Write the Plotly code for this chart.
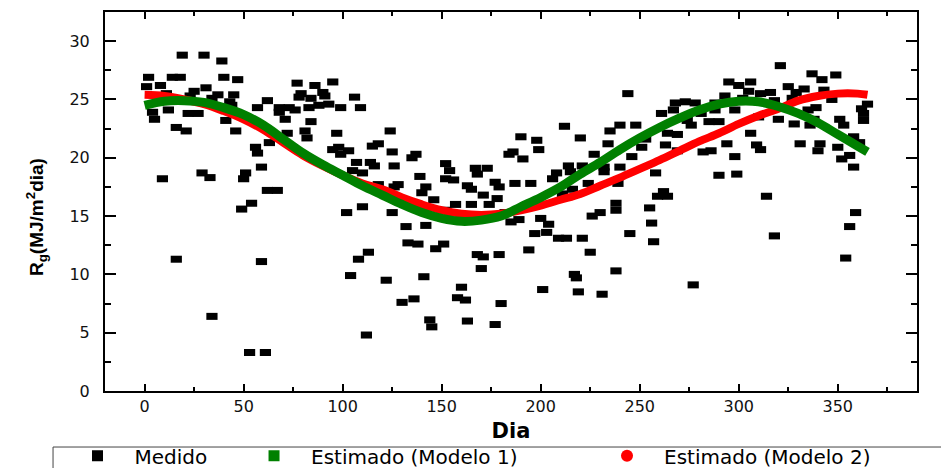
import plotly.graph_objects as go

# ---------------- data ----------------
medido_dia = [
    19, 30, 39, 2, 14, 18, 40, 47, 1, 8, 25, 31, 37, 45, 11, 23, 34, 43, 44, 4,
    12, 22, 27, 5, 41, 16, 21, 46, 9, 29, 33, 51, 50, 49, 54, 16, 34, 53,
    77, 86, 95, 79, 90, 91, 78, 84, 62, 57, 68, 73, 76, 83, 88, 93, 99, 106, 109,
    68, 71, 84, 72, 81, 82, 63, 97, 56, 57, 95, 98, 99, 103, 115, 118, 107, 114,
    116, 105, 110, 59, 62, 67, 102, 110, 113, 108, 104, 59, 112, 61,
    124, 125, 137, 135, 126, 152, 154, 167, 173, 168, 139, 152, 156, 118, 128, 126,
    142, 163, 165, 140, 171, 146, 157, 165, 174, 152, 125, 132, 142, 133, 138, 151,
    147, 168, 171, 170, 122, 141, 160, 130, 136, 158, 162, 144, 145, 163, 177, 177,
    179, 180,
    212, 190, 198, 220, 235, 234, 184, 186, 199, 191, 227, 214, 215, 221, 232, 232,
    208, 206, 187, 195, 179, 224, 211, 216, 178, 230, 226, 182, 185, 189, 200, 204,
    197, 203, 209, 213, 221, 225, 194, 217, 218, 201, 219, 231, 240, 240, 238, 238, 238,
    244, 293, 295, 268, 273, 278, 261, 267, 288, 288, 281, 274, 276, 285, 290, 248,
    264, 269, 253, 294, 263, 251, 269, 282, 286, 246, 258, 290, 239, 262, 259, 264,
    255, 256, 245, 257, 277, 298, 298, 300, 299,
    321, 337, 349, 342, 306, 325, 333, 305, 311, 316, 329, 343, 347, 302, 318, 327,
    365, 362, 363, 363, 335, 339, 310, 320, 328, 336, 338, 351, 353, 358, 361, 306,
    309, 311, 331, 341, 340, 350, 356, 352, 358, 314, 359, 356, 318, 354,
]
medido_rg = [
    28.8, 28.8, 28.3, 26.9, 26.9, 26.9, 26.9, 26.7, 26.1, 26.2, 25.7, 26.0, 25.4, 25.4, 25.5, 25.3, 25.1, 24.8, 24.5, 23.9,
    24.1, 23.8, 23.8, 23.3, 23.2, 22.6, 22.3, 22.3, 18.2, 18.7, 18.3, 18.7, 18.2, 15.6, 16.1, 11.3, 6.4, 3.3,
    26.4, 26.2, 26.5, 25.5, 25.6, 25.3, 25.2, 25.1, 24.9, 24.3, 24.3, 24.3, 24.1, 24.3, 24.5, 24.6, 24.3, 25.2, 24.3,
    23.9, 23.3, 23.1, 22.1, 22.3, 21.7, 21.3, 22.1, 20.9, 20.4, 20.7, 20.9, 20.3, 20.6, 21.0, 21.2, 19.6, 19.6,
    19.3, 18.9, 18.7, 19.2, 17.2, 17.2, 15.3, 15.8, 11.9, 11.3, 9.9, 11.1, 4.8, 3.3,
    22.3, 20.5, 20.3, 20.0, 19.3, 19.5, 18.9, 19.1, 19.1, 18.6, 18.4, 18.2, 18.1, 17.7, 17.7, 17.5,
    17.5, 17.6, 17.3, 17.0, 16.8, 16.4, 16.0, 16.0, 16.0, 15.5, 15.3, 14.1, 14.2, 12.7, 12.6, 12.6,
    12.2, 11.7, 11.5, 10.5, 9.5, 9.8, 8.9, 7.6, 7.9, 8.0, 7.8, 6.1, 5.5, 6.0, 5.7, 17.9,
    11.7, 7.5,
    22.7, 21.8, 21.5, 21.7, 22.3, 21.2, 20.3, 20.5, 20.7, 19.9, 20.3, 19.3, 18.8, 19.3, 19.2, 18.8,
    18.7, 18.2, 17.8, 17.8, 17.5, 17.8, 16.9, 17.3, 16.5, 15.3, 15.0, 15.3, 14.5, 14.7, 14.8, 14.3,
    13.5, 13.6, 13.1, 13.1, 13.1, 11.9, 12.1, 10.0, 9.7, 8.7, 8.5, 8.3, 22.8, 19.2, 16.1, 15.5, 10.3,
    25.5, 25.3, 26.5, 24.7, 24.8, 24.7, 23.8, 24.1, 24.7, 24.1, 23.8, 23.2, 22.8, 23.1, 23.1, 22.8,
    22.1, 22.0, 21.6, 21.2, 21.1, 20.9, 20.6, 20.5, 20.6, 20.1, 18.7, 18.5, 17.8, 17.1, 16.7, 16.7,
    15.7, 14.4, 13.5, 12.8, 9.1, 20.1, 24.1, 26.2, 18.6,
    27.9, 27.2, 27.1, 26.7, 26.5, 26.1, 25.9, 25.7, 25.5, 25.6, 25.6, 25.8, 25.0, 25.1, 24.9, 25.1,
    24.6, 24.2, 23.8, 23.2, 24.1, 24.3, 23.5, 23.3, 22.9, 22.8, 23.3, 23.3, 22.8, 21.8, 21.3, 22.1,
    21.1, 20.7, 21.2, 21.2, 20.6, 20.9, 20.2, 19.9, 19.2, 16.7, 15.3, 14.1, 13.3, 11.4,
]

curva_dia = [0, 10, 20, 30, 40, 50, 60, 70, 80, 90, 100, 110, 120, 130, 140, 150, 160, 170,
             180, 190, 200, 210, 220, 230, 240, 250, 260, 270, 280, 290, 300, 310, 320, 330,
             340, 350, 360, 365]
modelo1_rg = [24.5, 24.85, 24.9, 24.75, 24.3, 23.7, 22.8, 21.6, 20.4, 19.4, 18.5, 17.6, 16.8,
              16.0, 15.3, 14.8, 14.55, 14.65, 15.0, 15.8, 16.6, 17.5, 18.6, 19.6, 20.7, 21.7,
              22.6, 23.4, 24.1, 24.6, 24.85, 24.8, 24.4, 23.8, 23.0, 22.0, 21.0, 20.5]
modelo2_rg = [25.4, 25.3, 25.0, 24.6, 24.0, 23.3, 22.4, 21.3, 20.2, 19.3, 18.5, 17.8, 17.3,
              16.6, 16.0, 15.5, 15.2, 15.1, 15.2, 15.5, 15.9, 16.4, 16.9, 17.6, 18.3, 19.05,
              19.8, 20.6, 21.4, 22.1, 22.9, 23.6, 24.2, 24.9, 25.3, 25.5, 25.5, 25.4]

x_ticks = [0, 50, 100, 150, 200, 250, 300, 350]
x_minor = [25, 75, 125, 175, 225, 275, 325, 375]
y_ticks = [0, 5, 10, 15, 20, 25, 30]
y_minor = [2.5, 7.5, 12.5, 17.5, 22.5, 27.5]

nomes = ["Medido", "Estimado (Modelo 1)", "Estimado (Modelo 2)"]

# ---------------- figure ----------------
fig = go.Figure()

fig.add_trace(go.Scatter(
    x=medido_dia, y=medido_rg, mode="markers", showlegend=False,
    marker=dict(symbol="line-ew", size=8, color="black",
                line=dict(color="black", width=7)),
))
fig.add_trace(go.Scatter(
    x=curva_dia, y=modelo2_rg, mode="lines", showlegend=False,
    line=dict(color="#ff0000", width=8, shape="spline"),
))
fig.add_trace(go.Scatter(
    x=curva_dia, y=modelo1_rg, mode="lines", showlegend=False,
    line=dict(color="#008000", width=9, shape="spline"),
))

# legend entries
leg_cfg = [("legend", "square", "black", 11),
           ("legend2", "square", "#008000", 11),
           ("legend3", "circle", "#ff0000", 12)]
for nome, (lg, sym, col, sz) in zip(nomes, leg_cfg):
    fig.add_trace(go.Scatter(
        x=[None], y=[None], mode="markers", name=nome, legend=lg, showlegend=True,
        marker=dict(symbol=sym, color=col, size=sz),
    ))

leg_font = dict(family="DejaVu Sans", size=20, color="black")
def leg(xp):
    return dict(x=xp, y=-0.171, xref="paper", yref="paper", xanchor="left",
                yanchor="middle", orientation="h", font=leg_font, itemwidth=64,
                bgcolor="rgba(0,0,0,0)", borderwidth=0)

axis_common = dict(showgrid=False, zeroline=False, showline=True, linecolor="black",
                   linewidth=2, mirror="ticks", ticks="inside", tickcolor="black",
                   tickwidth=2,
                   tickfont=dict(family="DejaVu Sans", size=16, color="#111111"))

fig.update_layout(
    width=949, height=468,
    margin=dict(l=97, r=40, t=4, b=85, autoexpand=False),
    paper_bgcolor="white", plot_bgcolor="white",
    xaxis=dict(range=[-20, 390], tickvals=x_ticks, ticklen=7,
               minor=dict(tickvals=x_minor, ticks="inside", ticklen=4, tickwidth=2,
                          tickcolor="black", showgrid=False),
               ticklabelstandoff=0,
               title=dict(text="Dia", standoff=8,
                          font=dict(family="DejaVu Sans", size=21, color="black",
                                    weight="bold")),
               **axis_common),
    yaxis=dict(range=[0, 32.5], tickvals=y_ticks, ticklen=11,
               minor=dict(tickvals=y_minor, ticks="inside", ticklen=6, tickwidth=2,
                          tickcolor="black", showgrid=False),
               ticklabelstandoff=10,
               **axis_common),
    annotations=[dict(text="R<sub>g</sub>(MJ/m<sup>2</sup>dia)", textangle=-90,
                      xref="paper", yref="paper", x=-0.085, y=0.459,
                      xanchor="center", yanchor="middle", showarrow=False,
                      font=dict(family="Liberation Sans, Arial", size=19,
                                color="black", weight="bold"))],
    legend=leg(-0.0548), legend2=leg(0.1626), legend3=leg(0.5973),
    shapes=[dict(type="rect", xref="paper", yref="paper", x0=-0.064, x1=1.06,
                 y0=-0.235, y1=-0.1478, line=dict(color="#444444", width=1),
                 fillcolor="rgba(0,0,0,0)", layer="above")],
)

fig.write_html("out.html", config={"displayModeBar": False})
